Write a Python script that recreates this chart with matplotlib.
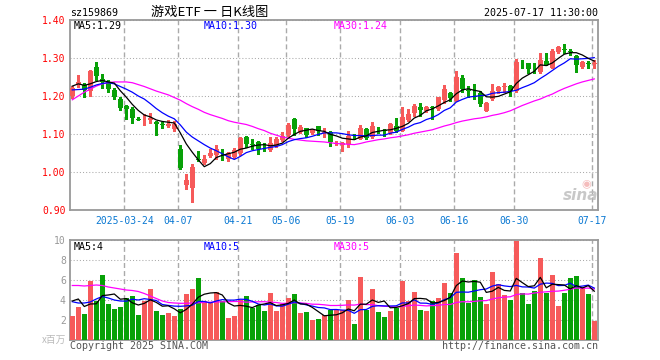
import matplotlib
matplotlib.use("Agg")

import matplotlib.pyplot as plt
from matplotlib.patches import Rectangle
import numpy as np

W, H, DPI = 660, 360, 100

RED = "#f65a5a"
GREEN = "#08a108"
GRID = "#aaaaaa"
FRAME = "#999999"
MONO = "DejaVu Sans Mono"
CJK = ["Noto Sans CJK SC", "DejaVu Sans"]

# ---- daily K-line data ----
opens = [1.200, 1.228, 1.228, 1.212, 1.277, 1.246, 1.237, 1.217, 1.192, 1.173,
         1.165, 1.138, 1.136, 1.136, 1.132, 1.126, 1.121, 1.113, 1.061, 0.966,
         0.958, 1.033, 1.025, 1.042, 1.046, 1.046, 1.035, 1.040, 1.049, 1.093,
         1.073, 1.079, 1.063, 1.059, 1.068, 1.083, 1.098, 1.140, 1.105, 1.116,
         1.103, 1.121, 1.102, 1.106, 1.075, 1.072, 1.074, 1.095, 1.088, 1.112,
         1.091, 1.113, 1.109, 1.102, 1.121, 1.109, 1.137, 1.154, 1.170, 1.161,
         1.170, 1.167, 1.190, 1.209, 1.188, 1.247, 1.215, 1.199, 1.209, 1.161,
         1.191, 1.214, 1.223, 1.226, 1.214, 1.285, 1.286, 1.272, 1.264, 1.293,
         1.275, 1.316, 1.323, 1.318, 1.304, 1.276, 1.287, 1.284]
closes = [1.222, 1.236, 1.216, 1.265, 1.252, 1.236, 1.218, 1.198, 1.168, 1.166,
          1.142, 1.137, 1.138, 1.141, 1.126, 1.124, 1.127, 1.126, 1.011, 0.980,
          1.014, 1.031, 1.035, 1.051, 1.060, 1.044, 1.049, 1.058, 1.090, 1.074,
          1.071, 1.061, 1.062, 1.076, 1.086, 1.095, 1.125, 1.112, 1.119, 1.097,
          1.110, 1.107, 1.104, 1.079, 1.077, 1.077, 1.096, 1.094, 1.117, 1.090,
          1.121, 1.112, 1.108, 1.126, 1.109, 1.146, 1.153, 1.174, 1.163, 1.170,
          1.168, 1.197, 1.218, 1.195, 1.251, 1.218, 1.213, 1.198, 1.179, 1.182,
          1.214, 1.223, 1.225, 1.212, 1.290, 1.283, 1.270, 1.270, 1.295, 1.282,
          1.319, 1.330, 1.322, 1.317, 1.281, 1.290, 1.285, 1.287]
highs = [1.226, 1.255, 1.233, 1.268, 1.289, 1.258, 1.242, 1.222, 1.198, 1.176,
         1.171, 1.146, 1.152, 1.155, 1.135, 1.131, 1.138, 1.133, 1.072, 0.995,
         1.021, 1.056, 1.045, 1.060, 1.070, 1.060, 1.052, 1.062, 1.092, 1.094,
         1.088, 1.081, 1.076, 1.093, 1.091, 1.105, 1.128, 1.141, 1.125, 1.117,
         1.114, 1.122, 1.116, 1.108, 1.082, 1.078, 1.109, 1.100, 1.125, 1.116,
         1.132, 1.119, 1.114, 1.128, 1.142, 1.172, 1.165, 1.178, 1.182, 1.174,
         1.175, 1.198, 1.230, 1.210, 1.267, 1.254, 1.226, 1.232, 1.214, 1.184,
         1.232, 1.226, 1.233, 1.228, 1.297, 1.295, 1.288, 1.286, 1.314, 1.314,
         1.323, 1.332, 1.337, 1.325, 1.307, 1.291, 1.293, 1.295]
lows = [1.196, 1.225, 1.197, 1.199, 1.243, 1.220, 1.210, 1.193, 1.163, 1.139,
        1.130, 1.136, 1.123, 1.130, 1.097, 1.117, 1.118, 1.109, 1.008, 0.955,
        0.921, 1.030, 1.022, 1.040, 1.035, 1.032, 1.030, 1.036, 1.046, 1.066,
        1.061, 1.048, 1.054, 1.056, 1.066, 1.081, 1.095, 1.098, 1.102, 1.091,
        1.100, 1.098, 1.092, 1.068, 1.070, 1.054, 1.065, 1.088, 1.086, 1.086,
        1.089, 1.102, 1.096, 1.100, 1.104, 1.107, 1.133, 1.147, 1.147, 1.158,
        1.140, 1.163, 1.182, 1.186, 1.186, 1.210, 1.197, 1.191, 1.174, 1.160,
        1.190, 1.209, 1.210, 1.200, 1.211, 1.274, 1.261, 1.260, 1.260, 1.281,
        1.274, 1.314, 1.314, 1.307, 1.263, 1.274, 1.275, 1.274]

# price moving averages as drawn
ma5 = [1.226, 1.232, 1.228, 1.232, 1.238, 1.241, 1.237, 1.234, 1.214, 1.197,
       1.178, 1.162, 1.150, 1.145, 1.137, 1.133, 1.131, 1.129, 1.103, 1.074,
       1.052, 1.032, 1.014, 1.022, 1.038, 1.044, 1.048, 1.052, 1.060, 1.063,
       1.068, 1.071, 1.072, 1.069, 1.071, 1.076, 1.089, 1.099, 1.107, 1.110,
       1.113, 1.109, 1.107, 1.099, 1.095, 1.089, 1.087, 1.085, 1.092, 1.095,
       1.104, 1.107, 1.110, 1.111, 1.115, 1.120, 1.128, 1.142, 1.149, 1.161,
       1.166, 1.174, 1.183, 1.190, 1.206, 1.216, 1.219, 1.215, 1.212, 1.198,
       1.197, 1.199, 1.205, 1.211, 1.233, 1.247, 1.256, 1.265, 1.282, 1.280,
       1.287, 1.299, 1.310, 1.314, 1.314, 1.308, 1.299, 1.292]
ma10 = [1.216, 1.217, 1.218, 1.223, 1.229, 1.233, 1.235, 1.232, 1.225, 1.218,
        1.210, 1.200, 1.192, 1.180, 1.167, 1.156, 1.147, 1.140, 1.124, 1.105,
        1.092, 1.082, 1.072, 1.063, 1.056, 1.048, 1.040, 1.033, 1.041, 1.051,
        1.056, 1.059, 1.062, 1.065, 1.067, 1.072, 1.080, 1.085, 1.088, 1.090,
        1.094, 1.099, 1.103, 1.103, 1.103, 1.101, 1.098, 1.096, 1.096, 1.095,
        1.096, 1.097, 1.097, 1.102, 1.105, 1.112, 1.118, 1.126, 1.130, 1.138,
        1.143, 1.151, 1.162, 1.169, 1.184, 1.191, 1.197, 1.199, 1.201, 1.202,
        1.207, 1.209, 1.210, 1.212, 1.215, 1.222, 1.228, 1.235, 1.246, 1.256,
        1.267, 1.278, 1.287, 1.298, 1.297, 1.298, 1.299, 1.301]
ma30 = [1.190, 1.200, 1.210, 1.218, 1.226, 1.232, 1.235, 1.237, 1.237, 1.237,
        1.235, 1.230, 1.225, 1.219, 1.213, 1.208, 1.203, 1.196, 1.189, 1.180,
        1.172, 1.165, 1.157, 1.151, 1.146, 1.141, 1.135, 1.131, 1.128, 1.125,
        1.120, 1.114, 1.109, 1.102, 1.097, 1.092, 1.089, 1.086, 1.084, 1.082,
        1.081, 1.080, 1.079, 1.077, 1.075, 1.074, 1.073, 1.072, 1.075, 1.079,
        1.082, 1.085, 1.087, 1.090, 1.092, 1.095, 1.098, 1.102, 1.105, 1.108,
        1.111, 1.116, 1.121, 1.125, 1.130, 1.134, 1.137, 1.140, 1.142, 1.145,
        1.149, 1.152, 1.156, 1.161, 1.168, 1.175, 1.181, 1.187, 1.192, 1.199,
        1.205, 1.213, 1.220, 1.226, 1.232, 1.237, 1.241, 1.245]

# volume in millions (x百万) and its moving averages
volumes = [2.4, 3.3, 2.6, 5.9, 3.9, 6.5, 3.6, 3.1, 3.3, 4.2,
           4.4, 2.5, 3.9, 5.1, 2.9, 2.5, 2.7, 2.4, 3.1, 4.6,
           5.1, 6.2, 3.9, 3.7, 4.8, 3.9, 2.2, 2.4, 4.0, 4.4,
           3.2, 3.5, 2.9, 4.7, 2.9, 3.6, 4.2, 4.6, 2.7, 2.8,
           2.0, 2.1, 2.5, 3.0, 3.0, 3.0, 4.0, 1.6, 6.3, 3.0,
           5.1, 2.8, 2.3, 2.9, 3.2, 5.9, 3.9, 4.8, 3.0, 2.9,
           3.9, 4.2, 5.7, 4.7, 8.7, 6.2, 3.7, 6.0, 4.3, 3.6,
           6.8, 5.6, 4.5, 4.0, 9.9, 4.7, 3.6, 4.9, 8.2, 4.7,
           6.5, 3.4, 4.7, 6.2, 6.4, 5.3, 4.6, 1.9]
vol_ma5 = [3.90, 4.10, 3.35, 3.60, 3.62, 4.44, 4.50, 4.60, 4.08, 4.14,
           3.72, 3.50, 3.66, 4.02, 3.76, 3.38, 3.42, 3.12, 2.72, 3.06,
           3.58, 4.28, 4.58, 4.70, 4.74, 4.50, 3.70, 3.40, 3.46, 3.38,
           3.24, 3.50, 3.60, 3.74, 3.44, 3.52, 3.66, 4.00, 3.60, 3.58,
           3.26, 2.84, 2.42, 2.48, 2.52, 2.72, 3.10, 2.92, 3.58, 3.58,
           4.00, 3.76, 3.90, 3.22, 3.26, 3.42, 3.64, 4.14, 4.16, 4.10,
           3.70, 3.76, 3.94, 4.28, 5.44, 5.90, 5.80, 5.86, 5.78, 4.76,
           4.88, 5.26, 4.96, 4.90, 6.16, 5.74, 5.34, 5.42, 6.26, 5.22,
           5.58, 5.54, 5.50, 5.10, 5.44, 5.20, 5.44, 4.88]
vol_ma10 = [3.83, 3.70, 3.70, 3.80, 4.10, 4.35, 4.20, 4.00, 3.90, 3.88,
            4.08, 4.00, 4.13, 4.05, 3.95, 3.55, 3.46, 3.39, 3.37, 3.41,
            3.48, 3.85, 3.85, 3.71, 3.90, 4.04, 3.99, 3.99, 4.08, 4.06,
            3.87, 3.60, 3.50, 3.60, 3.41, 3.38, 3.58, 3.80, 3.67, 3.51,
            3.39, 3.25, 3.21, 3.04, 3.05, 2.99, 2.97, 2.67, 3.03, 3.05,
            3.36, 3.43, 3.41, 3.40, 3.42, 3.71, 3.70, 4.02, 3.69, 3.68,
            3.56, 3.70, 4.04, 4.22, 4.77, 4.80, 4.78, 4.90, 5.03, 5.10,
            5.39, 5.53, 5.41, 5.34, 5.46, 5.31, 5.30, 5.19, 5.58, 5.69,
            5.66, 5.44, 5.46, 5.68, 5.33, 5.39, 5.49, 5.19]
vol_ma30 = [5.45, 5.45, 5.40, 5.45, 5.50, 5.45, 5.30, 5.20, 5.10, 5.00,
            4.95, 4.85, 4.65, 4.40, 4.15, 3.90, 3.75, 3.70, 3.67, 3.67,
            3.70, 3.72, 3.75, 3.78, 3.80, 3.82, 3.83, 3.85, 3.85, 3.78,
            3.81, 3.82, 3.83, 3.79, 3.75, 3.66, 3.68, 3.73, 3.71, 3.66,
            3.58, 3.57, 3.52, 3.45, 3.45, 3.47, 3.51, 3.49, 3.59, 3.54,
            3.54, 3.43, 3.37, 3.35, 3.29, 3.36, 3.42, 3.50, 3.46, 3.41,
            3.44, 3.46, 3.55, 3.55, 3.75, 3.83, 3.82, 3.86, 3.92, 3.94,
            4.10, 4.22, 4.29, 4.32, 4.55, 4.61, 4.59, 4.70, 4.77, 4.82,
            4.87, 4.89, 4.97, 5.08, 5.19, 5.17, 5.19, 5.09]

# date ticks: candle index -> label
tick_idx = [9, 18, 28, 36, 45, 55, 64, 74, 87]
tick_labels = ["2025-03-24", "04-07", "04-21", "05-06", "05-19",
               "06-03", "06-16", "06-30", "07-17"]
price_ticks = [0.90, 1.00, 1.10, 1.20, 1.30, 1.40]
vol_ticks = [2, 4, 6, 8, 10]


def fx(x):
    return x / W


def fy(y):
    return 1 - y / H


fig = plt.figure(figsize=(W / DPI, H / DPI), dpi=DPI)
fig.patch.set_facecolor("white")

ax = fig.add_axes([fx(70), fy(210), 528 / W, 190 / H])
axv = fig.add_axes([fx(70), fy(340), 528 / W, 100 / H])

n = len(closes)
idx = np.arange(n)
colors = [RED if c >= o else GREEN for o, c in zip(opens, closes)]

for a in (ax, axv):
    a.set_xlim(-0.38, n - 0.38)
    for s in a.spines.values():
        s.set_color(FRAME)
        s.set_linewidth(1.3)
    a.set_xticks([t - 0.3 for t in tick_idx])
    a.tick_params(length=0)
    a.grid(axis="x", color=GRID, linestyle=(0, (3.6, 2.2)), linewidth=1.0)
    a.grid(axis="y", color=GRID, linestyle=(0, (1, 2)), linewidth=0.75)
    a.set_axisbelow(True)

# ===== PRICE PANEL =====
ax.set_ylim(0.90, 1.40)
ax.set_yticks(price_ticks)
ax.set_yticklabels([f"{v:.2f}" for v in price_ticks], color="#ff0000",
                   fontsize=7, family=MONO)
ax.set_xticklabels(tick_labels, color="#0a78d2", fontsize=7, family=MONO)
ax.tick_params(axis="y", pad=3)
ax.tick_params(axis="x", pad=4)

body_w = 0.82
for i in idx:
    o, c, h, l = opens[i], closes[i], highs[i], lows[i]
    col = colors[i]
    ax.vlines(i, l, h, color=col, linewidth=0.9, antialiased=False, zorder=3)
    bottom = min(o, c)
    height = max(abs(c - o), 0.0018)
    ax.add_patch(Rectangle((i - body_w / 2, bottom), body_w, height,
                           facecolor=col, edgecolor="none",
                           antialiased=False, zorder=4))

ax.plot(idx, ma30, color="#ff00ff", linewidth=0.9, zorder=5)
ax.plot(idx, ma10, color="#0000ff", linewidth=0.9, zorder=5)
ax.plot(idx, ma5, color="black", linewidth=0.9, zorder=6)

# ===== VOLUME PANEL =====
axv.set_ylim(0, 10)
axv.set_yticks(vol_ticks)
axv.set_yticklabels([str(v) for v in vol_ticks], color="#999999",
                    fontsize=7, family=MONO)
axv.set_xticklabels([])
axv.tick_params(axis="y", pad=3)

axv.bar(idx, volumes, width=body_w, color=colors, linewidth=0,
        antialiased=False, zorder=3)
axv.plot(idx, vol_ma30, color="#ff00ff", linewidth=0.9, zorder=5)
axv.plot(idx, vol_ma10, color="#0000ff", linewidth=0.9, zorder=5)
axv.plot(idx, vol_ma5, color="black", linewidth=0.9, zorder=6)

# ===== TEXT LAYER =====
fs = 7.2
fig.text(fx(70), fy(13), "sz159869", fontsize=fs, family=MONO,
         ha="left", va="center")
fig.text(fx(210), fy(12.5), "游戏ETF 一 日K线图", fontsize=9.5, family=CJK,
         ha="center", va="center")
fig.text(fx(598), fy(13), "2025-07-17 11:30:00", fontsize=fs, family=MONO,
         ha="right", va="center")

for y, labels in ((26, ["MA5:1.29", "MA10:1.30", "MA30:1.24"]),
                  (247, ["MA5:4", "MA10:5", "MA30:5"])):
    for x, txt, col in zip((74, 204, 334), labels,
                           ("black", "#0000ff", "#ff00ff")):
        fig.text(fx(x), fy(y), txt, fontsize=fs, family=MONO, color=col,
                 ha="left", va="center")

fig.text(fx(66), fy(340), "x百万", fontsize=7, family=CJK, color="#bbbbbb",
         ha="right", va="center")
fig.text(fx(70), fy(346), "Copyright 2025 SINA.COM", fontsize=fs,
         family=MONO, color="#555555", ha="left", va="center")
fig.text(fx(598), fy(346), "http://finance.sina.com.cn", fontsize=fs,
         family=MONO, color="#555555", ha="right", va="center")

# sina watermark
fig.text(fx(581), fy(196), "sina", fontsize=11, fontweight="bold",
         style="italic", color="#bbbbbb", alpha=0.8, ha="center", va="center")
fig.text(fx(586), fy(184), "◉", fontsize=8, color="#f2a0a0", alpha=0.7,
         ha="center", va="center")

fig.savefig("out.png", dpi=DPI, facecolor="white")
plt.close(fig)
